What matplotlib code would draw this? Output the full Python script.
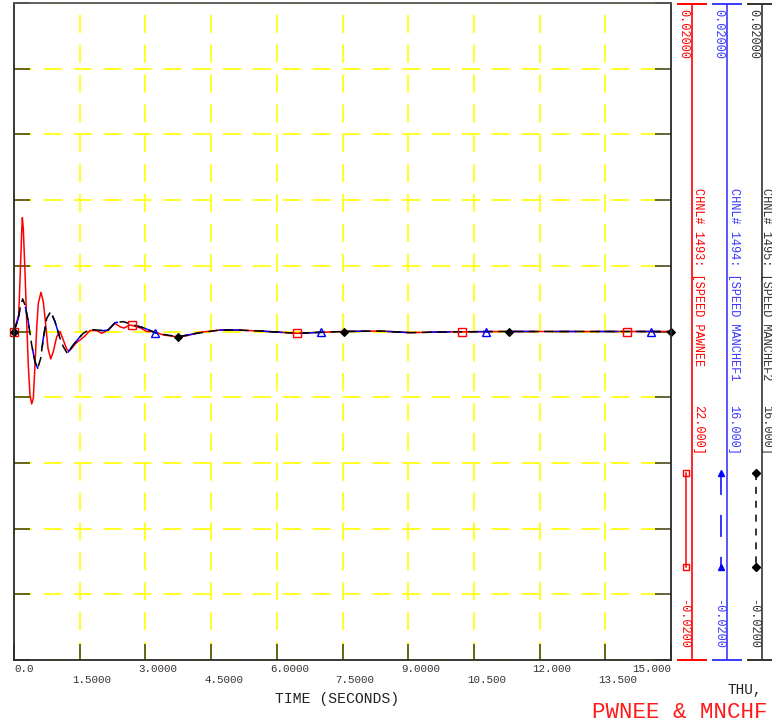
import numpy as np
import matplotlib
matplotlib.use("Agg")
import matplotlib.pyplot as plt
from matplotlib.lines import Line2D
from matplotlib import transforms

plt.rcParams["lines.scale_dashes"] = False

# ---------------- data ----------------
time_pawnee = [0.0, 0.107, 0.144, 0.176, 0.190, 0.212, 0.251, 0.290, 0.326, 0.365,
               0.404, 0.441, 0.479, 0.518, 0.555, 0.616, 0.669, 0.724, 0.776, 0.838,
               0.897, 0.975, 1.050, 1.126, 1.203, 1.256, 1.324, 1.416, 1.507, 1.621,
               1.735, 1.888, 2.002, 2.146, 2.306, 2.420, 2.511, 2.648, 2.877, 3.030,
               3.180, 3.409, 3.715, 3.943, 4.247, 4.703, 5.084, 5.616, 6.454, 7.009,
               7.534, 8.356, 9.041, 9.726, 11.10, 15.0]
speed_pawnee = [0.0, 0.00100, 0.00364, 0.00608, 0.00693, 0.00628, 0.00364, 0.00060, -0.00204, -0.00387,
                -0.00441, -0.00407, -0.00204, 0.00019, 0.00172, 0.00239, 0.00181, 0.00040, -0.00102, -0.00167,
                -0.00123, -0.00032, 0.0, -0.00052, -0.00107, -0.00119, -0.00100, -0.00070, -0.00052, -0.00027,
                0.00006, 0.00005, -0.00011, 0.00009, 0.00050, 0.00029, 0.00021, 0.00040, 0.00023, 0.0,
                0.0, -0.00021, -0.00032, -0.00026, -0.00005, 0.00009, 0.00009, 0.00003, -0.00011, -0.00005,
                0.0, 0.00003, -0.00007, -0.00003, 0.0, 0.0]

time_manchef = [0.0, 0.098, 0.153, 0.199, 0.251, 0.326, 0.404, 0.479, 0.541, 0.610,
                0.669, 0.747, 0.838, 0.936, 1.050, 1.126, 1.217, 1.354, 1.507, 1.582,
                1.735, 1.888, 2.039, 2.153, 2.306, 2.495, 2.724, 2.952, 3.258, 3.751,
                4.171, 4.703, 5.084, 5.616, 6.454, 7.009, 7.534, 8.356, 9.041, 9.726,
                11.10, 15.0]
speed_manchef1 = [0.0, 0.00080, 0.00161, 0.00198, 0.00161, 0.00060, -0.00082, -0.00184, -0.00224, -0.00163,
                  -0.00041, 0.00080, 0.00121, 0.00060, -0.00041, -0.00093, -0.00133, -0.00082, -0.00032, -0.00011,
                  0.00013, 0.00009, 0.00005, 0.00009, 0.00054, 0.00060, 0.00040, 0.00023, -0.00011, -0.00032,
                  -0.00011, 0.00009, 0.00009, 0.00003, -0.00011, -0.00005, 0.0, 0.00003, -0.00007, -0.00003,
                  0.0, 0.0]
speed_manchef2 = [0.0, 0.00080, 0.00161, 0.00198, 0.00161, 0.00060, -0.00082, -0.00184, -0.00224, -0.00163,
                  -0.00041, 0.00080, 0.00121, 0.00060, -0.00041, -0.00093, -0.00133, -0.00082, -0.00032, -0.00011,
                  0.00013, 0.00009, 0.00005, 0.00009, 0.00054, 0.00060, 0.00040, 0.00023, -0.00011, -0.00032,
                  -0.00011, 0.00009, 0.00009, 0.00003, -0.00011, -0.00005, 0.0, 0.00003, -0.00007, -0.00003,
                  0.0, 0.0]

marker_times_pawnee = [0.0, 2.69, 6.45, 10.23, 14.0]
marker_times_manchef1 = [3.22, 7.01, 10.78, 14.54]
marker_times_manchef2 = [0.0, 3.75, 7.53, 11.30, 15.0]

xtick_values = [0.0, 1.5, 3.0, 4.5, 6.0, 7.5, 9.0, 10.5, 12.0, 13.5, 15.0]
xtick_labels = ["0.0", "1.5000", "3.0000", "4.5000", "6.0000", "7.5000",
                "9.0000", "10.500", "12.000", "13.500", "15.000"]
ytick_values = [-0.02, -0.016, -0.012, -0.008, -0.004, 0.0, 0.004, 0.008, 0.012, 0.016, 0.02]

channel_names = ["CHNL# 1493: [SPEED PAWNEE", "CHNL# 1494: [SPEED MANCHEF1", "CHNL# 1495: [SPEED MANCHEF2"]
channel_bases = ["22.000]", "16.000]", "16.000]"]
channel_max = ["0.02000", "0.02000", "0.02000"]
channel_min = ["-0.0200", "-0.0200", "-0.0200"]

# ---------------- figure ----------------
W, H = 772, 723
fig = plt.figure(figsize=(W / 100, H / 100), dpi=100)
fig.patch.set_facecolor("white")
MONO = ["Liberation Mono", "DejaVu Sans Mono"]


def fx(px):
    return px / W


def fy(py):
    return 1 - py / H


L, R, T, B = 14, 671, 3, 660
ax = fig.add_axes([fx(L), fy(B), (R - L) / W, (B - T) / H])
ax.set_xlim(0, 15)
ax.set_ylim(-0.02, 0.02)
ax.set_xticks(xtick_values)
ax.set_yticks(ytick_values)
ax.set_xticklabels([])
ax.set_yticklabels([])
ax.tick_params(direction="in", length=11.5, width=1.1, color="#3c3c14",
               top=False, right=True, bottom=True, left=True)
for s in ax.spines.values():
    s.set_color("#2a2a2a")
    s.set_linewidth(1.3)
    s.set_zorder(5)
ax.spines["top"].set_color("#555555")
ax.grid(True, color="#ffff00", linewidth=1.2, linestyle=(0, (13, 8.5)))
ax.set_axisbelow(True)

colors = {"red": "#ff0000", "blue": "#0000ff", "black": "#000000"}

ax.plot(time_pawnee, speed_pawnee, color=colors["red"], lw=1.1, zorder=3)
ax.plot(time_manchef, speed_manchef1, color=colors["blue"], lw=1.1,
        linestyle=(0, (15.8, 14.4)), zorder=3.1)
ax.plot(time_manchef, speed_manchef2, color=colors["black"], lw=1.1,
        linestyle=(0, (7, 4)), zorder=3.2)

ax.plot(marker_times_pawnee, np.interp(marker_times_pawnee, time_pawnee, speed_pawnee),
        ls="none", marker="s", ms=5.5, mfc="none", mec=colors["red"], mew=1.0, zorder=4, clip_on=False)
ax.plot(marker_times_manchef1, np.interp(marker_times_manchef1, time_manchef, speed_manchef1),
        ls="none", marker="^", ms=5.5, mfc="none", mec=colors["blue"], mew=1.0, zorder=4.1, clip_on=False)
ax.plot(marker_times_manchef2, np.interp(marker_times_manchef2, time_manchef, speed_manchef2),
        ls="none", marker="D", ms=4, mfc=colors["black"], mec=colors["black"], mew=0.8, zorder=4.2, clip_on=False)

# x tick labels in two staggered rows
for i, (v, lab) in enumerate(zip(xtick_values, xtick_labels)):
    ypix = 669 if i % 2 == 0 else 680
    if i == 0:
        off, ha = 0, "left"
    elif i == len(xtick_values) - 1:
        off, ha = 0, "right"
    else:
        off, ha = -7, "left"
    tr = transforms.offset_copy(transforms.blended_transform_factory(ax.transData, fig.transFigure),
                                fig=fig, x=off, y=0, units="dots")
    fig.text(v, fy(ypix), lab, transform=tr, ha=ha, va="center",
             fontsize=7.8, family=MONO, color="#333333")

fig.text(fx(337.5), fy(699), "TIME (SECONDS)", ha="center", va="center",
         fontsize=10.6, family=MONO, color="#222222")
fig.text(fx(762), fy(690), "THU,", ha="right", va="center",
         fontsize=10.4, family=MONO, color="#222222")
fig.text(fx(768), fy(712), "PWNEE & MNCHF", ha="right", va="center",
         fontsize=16.2, family=MONO, color="#ff1a1a")

# ---------------- channel axes on the right ----------------
axis_x = [692, 727, 762]
label_dx = [6.5, 6.5, 4.0]
axis_cols = ["#ff0000", "#3a3aff", "#333333"]
line_styles = ["-", (0, (15.8, 14.4)), (0, (5, 5))]
line_markers = ["s", "^", "D"]
for k in range(3):
    x0 = axis_x[k]
    c = axis_cols[k]
    fig.add_artist(Line2D([fx(x0), fx(x0)], [fy(4), fy(660)], color=c, lw=1.2,
                          transform=fig.transFigure))
    for yy in (4, 660):
        fig.add_artist(Line2D([fx(x0 - 14), fx(x0 + 14)], [fy(yy), fy(yy)], color=c, lw=1.4,
                              transform=fig.transFigure))
    fig.text(fx(x0 - 9), fy(9), channel_max[k], rotation=-90, ha="center", va="top",
             fontsize=8.6, family=MONO, color=c)
    fig.text(fx(x0 - 9), fy(649), channel_min[k], rotation=-90, ha="center", va="bottom",
             fontsize=8.6, family=MONO, color=c)
    fig.text(fx(x0 + label_dx[k]), fy(188), channel_names[k], rotation=-90, ha="center", va="top",
             fontsize=8.6, family=MONO, color=c)
    fig.text(fx(x0 + label_dx[k]), fy(455), channel_bases[k], rotation=-90, ha="center", va="bottom",
             fontsize=8.6, family=MONO, color=c)
    # legend sample
    lc = [colors["red"], colors["blue"], colors["black"]][k]
    fig.add_artist(Line2D([fx(x0 - 6), fx(x0 - 6)], [fy(473), fy(567)], color=lc, lw=1.1,
                          linestyle=line_styles[k], transform=fig.transFigure))
    mfc = "none" if k == 0 else lc
    ms = 5 if k < 2 else 3.6
    fig.add_artist(Line2D([fx(x0 - 6), fx(x0 - 6)], [fy(473), fy(567)], ls="none",
                          marker=line_markers[k], ms=ms, mfc=mfc, mec=lc, mew=1.0,
                          transform=fig.transFigure))

fig.savefig("out.png", dpi=100, facecolor="white")
